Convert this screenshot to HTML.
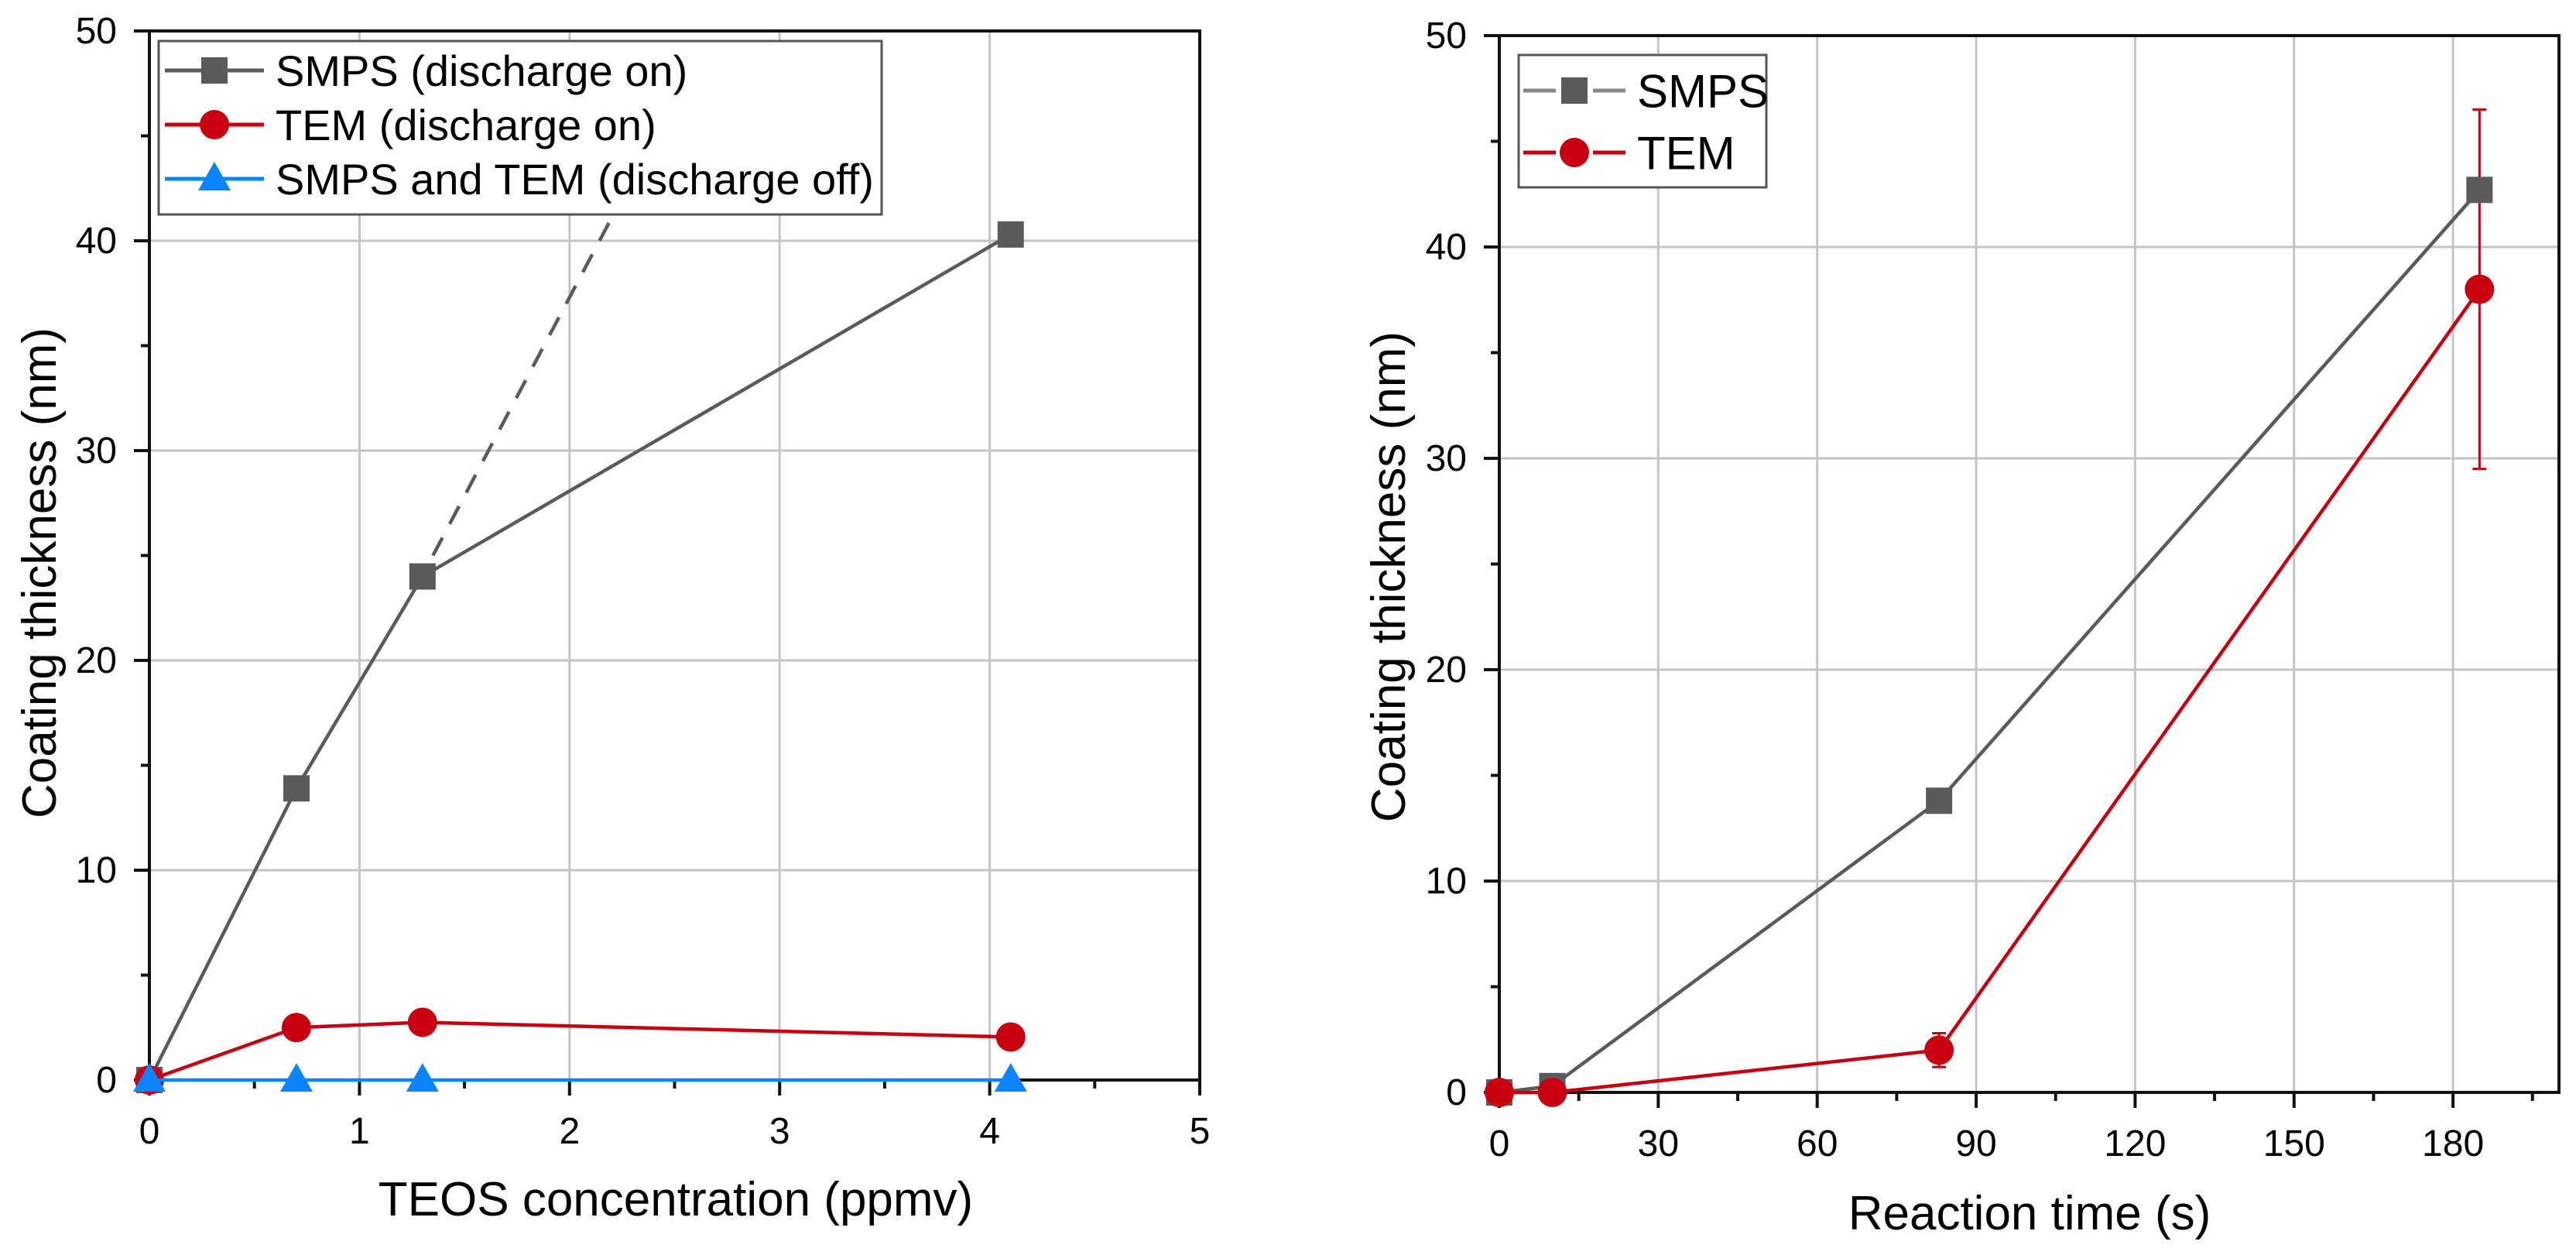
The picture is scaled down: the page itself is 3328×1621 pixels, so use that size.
<!DOCTYPE html>
<html><head><meta charset="utf-8"><style>
html,body{margin:0;padding:0;background:#fff;}
svg{display:block;font-family:"Liberation Sans",Arial,sans-serif;}
</style></head><body>
<svg id="fig" width="3328" height="1621" viewBox="0 0 3328 1621" xmlns="http://www.w3.org/2000/svg">
<g id="p1"></g>
<g id="p2"></g>
</svg>
<script>
// ---- Left chart data ----
const leftXTicks = [0, 1, 2, 3, 4, 5];
const leftYTicks = [0, 10, 20, 30, 40, 50];
const leftX = [0, 0.7, 1.3, 4.1];
const leftSmps = [0, 13.9, 24.0, 40.3];
const leftTem = [0, 2.5, 2.75, 2.05];
const leftOff = [0, 0, 0, 0];
const leftDashX = [1.35, 2.19];
const leftDashY = [25.0, 40.9];
// ---- Right chart data ----
const rightXTicks = [0, 30, 60, 90, 120, 150, 180];
const rightYTicks = [0, 10, 20, 30, 40, 50];
const rightX = [0, 10, 83, 185];
const rightSmps = [0, 0.3, 13.8, 42.7];
const rightTem = [0, 0, 2.0, 38.0];
const rightTemErr = [0, 0, 0.8, 8.5];

const NS = "http://www.w3.org/2000/svg";
const GRAY = "#5a5a5a", RED = "#c8000f", BLUE = "#0a84ff";
function el(parent, tag, attrs) {
  const e = document.createElementNS(NS, tag);
  for (const k in attrs) e.setAttribute(k, attrs[k]);
  parent.appendChild(e);
  return e;
}
function txt(parent, x, y, s, size, anchor, extra) {
  const t = el(parent, "text", {x: x, y: y, "font-size": size, "text-anchor": anchor || "middle", fill: "#000"});
  if (extra) for (const k in extra) t.setAttribute(k, extra[k]);
  t.textContent = s;
  return t;
}
function marker(g, type, cx, cy, color) {
  let m;
  if (type === "square") m = el(g, "rect", {x: cx - 17, y: cy - 17, width: 34, height: 34, fill: color});
  else if (type === "circle") m = el(g, "circle", {cx: cx, cy: cy, r: 19, fill: color});
  else m = el(g, "polygon", {points: `${cx},${cy - 22} ${cx - 21},${cy + 15} ${cx + 21},${cy + 15}`, fill: color});
  return m;
}

function drawChart(g, cfg) {
  const sx = v => cfg.x0 + (v - cfg.xmin) / (cfg.xmax - cfg.xmin) * (cfg.x1 - cfg.x0);
  const sy = v => cfg.y0 - (v - cfg.ymin) / (cfg.ymax - cfg.ymin) * (cfg.y0 - cfg.y1);
  cfg.xTicks.forEach(v => {
    if (v > cfg.xmin && v < cfg.xmax) {
      const l = el(g, "line", {x1: sx(v), x2: sx(v), y1: cfg.y1, y2: cfg.y0, stroke: "#c4c4c4", "stroke-width": 3});
      
      
    }
  });
  cfg.yTicks.forEach(v => {
    if (v > cfg.ymin && v < cfg.ymax) {
      const l = el(g, "line", {x1: cfg.x0, x2: cfg.x1, y1: sy(v), y2: sy(v), stroke: "#c4c4c4", "stroke-width": 3});
      
      
    }
  });
  const fr = el(g, "rect", {x: cfg.x0, y: cfg.y1, width: cfg.x1 - cfg.x0, height: cfg.y0 - cfg.y1, fill: "none", stroke: "#111", "stroke-width": 4});
  
  
  cfg.xTicks.forEach(v => {
    const t = el(g, "line", {x1: sx(v), x2: sx(v), y1: cfg.y0, y2: cfg.y0 + 20, stroke: "#111", "stroke-width": 4});
    
    
    const lb = txt(g, sx(v), cfg.y0 + 82, String(v), 48);
    
    
  });
  for (let i = 0; i < cfg.xTicks.length; i++) {
    const step = cfg.xTicks[1] - cfg.xTicks[0];
    const v = cfg.xTicks[i] + step / 2;
    if (v < cfg.xmax) {
      const t = el(g, "line", {x1: sx(v), x2: sx(v), y1: cfg.y0, y2: cfg.y0 + 11, stroke: "#111", "stroke-width": 4});
      
      
    }
  }
  cfg.yTicks.forEach((v, i) => {
    const t = el(g, "line", {x1: cfg.x0 - 20, x2: cfg.x0, y1: sy(v), y2: sy(v), stroke: "#111", "stroke-width": 4});
    
    
    const lb = txt(g, cfg.x0 - 42, sy(v) + 16, String(v), 48, "end");
    
    
    if (i < cfg.yTicks.length - 1) {
      const m = (v + cfg.yTicks[i + 1]) / 2;
      const mt = el(g, "line", {x1: cfg.x0 - 11, x2: cfg.x0, y1: sy(m), y2: sy(m), stroke: "#111", "stroke-width": 4});
      
      
    }
  });
  const xt = txt(g, cfg.xTitleX, cfg.xTitleY, cfg.xTitle, 62);
  
  
  const yt = txt(g, 0, 0, "Coating thickness (nm)", 62, "middle", {transform: `translate(${cfg.yTitleX},${cfg.yTitleY}) rotate(-90)`});
  
  
  return {sx, sy};
}

function series(g, sx, sy, xs, ys, color, type, name) {
  const sg = el(g, "g", {});
  
  
  const pts = xs.map((x, i) => `${sx(x)},${sy(ys[i])}`).join(" ");
  const pl = el(sg, "polyline", {points: pts, fill: "none", stroke: color, "stroke-width": 4.5});
  
  
  xs.forEach((x, i) => {
    const m = marker(sg, type, sx(x), sy(ys[i]), color);
    
    
  });
}

function legend(g, x, y, w, h, rows, fs, lineX0, lineX1, textX) {
  const lg = el(g, "g", {});
  
  
  const box = el(lg, "rect", {x: x, y: y, width: w, height: h, fill: "#fff", stroke: "#555", "stroke-width": 3});
  
  
  rows.forEach(r => {
    const e = el(lg, "g", {});
    
    
    el(e, "line", {x1: lineX0, x2: lineX1, y1: r.y, y2: r.y, stroke: r.color, "stroke-width": 5});
    if (r.gap) el(e, "rect", {x: (lineX0 + lineX1) / 2 - 24, y: r.y - 4, width: 48, height: 8, fill: "#fff"});
    marker(e, r.type, (lineX0 + lineX1) / 2, r.y, r.mcolor || r.color);
    txt(e, textX, r.y + fs * 0.36, r.label, fs, "start");
  });
}

const g1 = document.getElementById("p1");
const c1 = drawChart(g1, {x0: 193, x1: 1550, y0: 1395, y1: 40, xmin: 0, xmax: 5, ymin: 0, ymax: 50,
  xTicks: leftXTicks, yTicks: leftYTicks, xTitle: "TEOS concentration (ppmv)", xTitleX: 873, xTitleY: 1570, yTitleX: 72, yTitleY: 740});
const dash = el(g1, "line", {x1: c1.sx(leftDashX[0]), y1: c1.sy(leftDashY[0]), x2: c1.sx(leftDashX[1]), y2: c1.sy(leftDashY[1]), stroke: GRAY, "stroke-width": 4.5, "stroke-dasharray": "26,20"});


series(g1, c1.sx, c1.sy, leftX, leftSmps, GRAY, "square", "smps-discharge-on");
series(g1, c1.sx, c1.sy, leftX, leftTem, RED, "circle", "tem-discharge-on");
series(g1, c1.sx, c1.sy, leftX, leftOff, BLUE, "triangle", "discharge-off");
legend(g1, 205, 53, 934, 224, [
  {y: 91, color: GRAY, type: "square", label: "SMPS (discharge on)"},
  {y: 161, color: RED, type: "circle", label: "TEM (discharge on)"},
  {y: 231, color: BLUE, type: "triangle", label: "SMPS and TEM (discharge off)"}
], 56, 213, 341, 356);

const g2 = document.getElementById("p2");
const c2 = drawChart(g2, {x0: 1937, x1: 3306, y0: 1411, y1: 46, xmin: 0, xmax: 200, ymin: 0, ymax: 50,
  xTicks: rightXTicks, yTicks: rightYTicks, xTitle: "Reaction time (s)", xTitleX: 2622, xTitleY: 1588, yTitleX: 1815, yTitleY: 745});
rightX.forEach((x, i) => {
  if (rightTemErr[i] > 0) {
    const eg = el(g2, "g", {stroke: RED, "stroke-width": 3});
    
    
    const cx = c2.sx(x), yt = c2.sy(rightTem[i] + rightTemErr[i]), yb = c2.sy(rightTem[i] - rightTemErr[i]);
    el(eg, "line", {x1: cx, x2: cx, y1: yt, y2: yb});
    el(eg, "line", {x1: cx - 9, x2: cx + 9, y1: yt, y2: yt});
    el(eg, "line", {x1: cx - 9, x2: cx + 9, y1: yb, y2: yb});
  }
});
series(g2, c2.sx, c2.sy, rightX, rightSmps, GRAY, "square", "smps");
series(g2, c2.sx, c2.sy, rightX, rightTem, RED, "circle", "tem");
legend(g2, 1962, 71, 320, 171, [
  {y: 117, color: "#888", mcolor: GRAY, type: "square", label: "SMPS", gap: true},
  {y: 197, color: RED, type: "circle", label: "TEM", gap: true}
], 60, 1968, 2100, 2115);
</script>
</body></html>
